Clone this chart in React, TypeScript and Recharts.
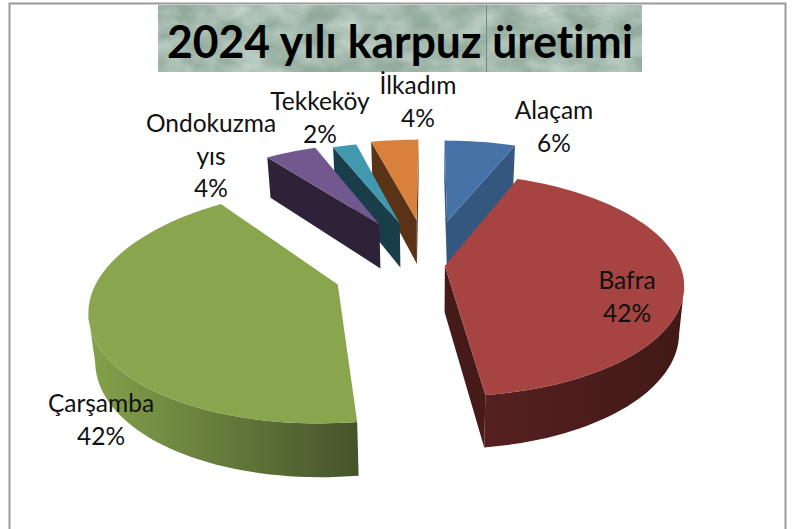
import React from "react";
import { PieChart, Pie } from "recharts";

const titleText = "2024 yılı karpuz üretimi";
// listed in paint order, running counter-clockwise from Alaçam's right edge
const sliceNames = ["Alaçam", "İlkadım", "Tekkeköy", "Ondokuzmayıs", "Çarşamba", "Bafra"];
const sliceValues = [6, 4, 2, 4.3, 41.8, 41.9];
const labelLines = [["Alaçam"], ["İlkadım"], ["Tekkeköy"], ["Ondokuzma", "yıs"], ["Çarşamba"], ["Bafra"]];

// styling (not data)
const topColors = ["#4672a8", "#d8813c", "#4198af", "#71588f", "#89a54e", "#a64442"];
const edgeColors = ["#34577f", "#5a3216", "#1a3d4a", "#2e2238", "#46562a", "#451a18"];
const wallLeft = ["#34577f", "#5a3216", "#1a3d4a", "#2e2238", "#83a04b", "#552020"];
const wallRight = ["#34577f", "#5a3216", "#1a3d4a", "#2e2238", "#44542a", "#421917"];
const explode = [0.44, 0.45, 0.43, 0.46, 0.415, 0.068];
const explodeTilt = [0, 0, 0, 0, 2.5, 0];
const labelOffsets = [[125, -146], [-11, -171], [-109, -155], [-218, -133], [-328, 147], [198, 24]];
const gradientSpan = [[55, 250], [55, 250], [55, 250], [55, 250], [-335, -70], [55, 250]];

const CX = 429;
const CY = 265;
const R = 235;
const VERTICAL = 108 / 235;
const PERSPECTIVE = 0.17;
const DEPTH = 46;
const FONT = "Lato, 'Open Sans', sans-serif";

type Pt = { x: number; y: number; s: number };

function project(cx: number, cy: number, r: number, wx: number, wy: number): Pt {
  const s = 1 / (1 + PERSPECTIVE * wy);
  return { x: cx + r * wx * s, y: cy - r * VERTICAL * wy * s, s };
}

function lower(cx: number, p: Pt): Pt {
  return { x: cx + (p.x - cx) * 0.98, y: p.y + DEPTH * Math.pow(p.s, 0.7), s: p.s };
}

const pathOf = (pts: Pt[]) =>
  pts.map((p, i) => `${i ? "L" : "M"}${p.x.toFixed(2)} ${p.y.toFixed(2)}`).join(" ") + " Z";

function Slice3D(props: any) {
  const { cx, cy, outerRadius, index } = props;
  // walk the rim clockwise on screen whatever direction the pie runs
  const from = Math.max(props.startAngle, props.endAngle);
  const to = Math.min(props.startAngle, props.endAngle);
  const rad = Math.PI / 180;
  const mid = ((from + to) / 2 + explodeTilt[index]) * rad;
  const ex = explode[index] * Math.cos(mid);
  const ey = explode[index] * Math.sin(mid);
  const apex = project(cx, cy, outerRadius, ex, ey);
  const arc: Pt[] = [];
  const steps = Math.max(4, Math.ceil((from - to) / 2));
  for (let i = 0; i <= steps; i++) {
    const a = (from + ((to - from) * i) / steps) * rad;
    arc.push(project(cx, cy, outerRadius, ex + Math.cos(a), ey + Math.sin(a)));
  }
  const gradId = `wall-${index}`;
  // the rim's front-facing run (edges heading left on screen) as one solid wall
  const run: Pt[] = [];
  for (let i = 0; i < arc.length - 1; i++) {
    if (arc[i + 1].x < arc[i].x) {
      if (!run.length) run.push(arc[i]);
      run.push(arc[i + 1]);
    }
  }
  const first = arc[0];
  const last = arc[arc.length - 1];
  const radials: React.ReactNode[] = [];
  if (apex.x < last.x) {
    radials.push(
      <path key="re" d={pathOf([last, apex, lower(cx, apex), lower(cx, last)])} fill={edgeColors[index]} />
    );
  }
  if (first.x < apex.x) {
    radials.push(
      <path key="rs" d={pathOf([apex, first, lower(cx, first), lower(cx, apex)])} fill={edgeColors[index]} />
    );
  }
  const [g0, g1] = gradientSpan[index];
  return (
    <g>
      <defs>
        <linearGradient id={gradId} gradientUnits="userSpaceOnUse" x1={cx + g0} y1={0} x2={cx + g1} y2={0}>
          <stop offset="0" stopColor={wallLeft[index]} />
          <stop offset="1" stopColor={wallRight[index]} />
        </linearGradient>
      </defs>
      {radials}
      {run.length > 1 && (
        <path d={pathOf([...run, ...run.map((p) => lower(cx, p)).reverse()])} fill={`url(#${gradId})`} />
      )}
      <path d={pathOf([apex, ...arc])} fill={topColors[index]} />
    </g>
  );
}

function SliceLabel(props: any) {
  const { cx, cy, index, percent } = props;
  const lines = [...labelLines[index], `${Math.round(percent * 100)}%`];
  const [dx, dy] = labelOffsets[index];
  const x = cx + dx;
  const y = cy + dy;
  const lh = 32.5;
  return (
    <text x={x} y={y} textAnchor="middle" fontFamily={FONT} fontSize={24.5} fill="#111" style={{ fontVariantLigatures: "none" }}>
      {lines.map((l, i) => (
        <tspan key={i} x={x} y={y + i * lh}>
          {l}
        </tspan>
      ))}
    </text>
  );
}

const chartData = sliceNames.map((name, i) => ({ name, value: sliceValues[i] }));
const total = sliceValues.reduce((a, b) => a + b, 0);
const startAngle = 90 - (360 * sliceValues[0]) / total;

function TitleBar() {
  return (
    <svg width={799} height={529} style={{ position: "absolute", left: 0, top: 0 }}>
      <defs>
        <filter id="stone" x="0" y="0" width="100%" height="100%">
          <feTurbulence type="fractalNoise" baseFrequency="0.03 0.05" numOctaves={4} seed={7} />
          <feColorMatrix type="matrix" values="0 0 0 0 0.72  0 0 0 0 0.81  0 0 0 0 0.76  1.6 0 0 0 -0.45" />
          <feComposite in2="SourceGraphic" operator="in" />
        </filter>
      </defs>
      <rect x={158} y={5} width={484} height={67} fill="#93ab9d" />
      <rect x={158} y={5} width={484} height={67} fill="#fff" filter="url(#stone)" opacity={0.7} />
      <rect x={486} y={5} width={1} height={67} fill="#6f8a7c" />
      <text
        x={400}
        y={58}
        textAnchor="middle"
        fontFamily={FONT}
        fontWeight={700}
        fontSize={46}
        fill="#000"
        textLength={466}
        lengthAdjust="spacingAndGlyphs"
        style={{ fontVariantLigatures: "none" }}
      >
        {titleText}
      </text>
      <path d="M9.5 529 V3.5 H785.5 V529" fill="none" stroke="#999" strokeWidth={2} />
    </svg>
  );
}

export default function App() {
  return (
    <div style={{ position: "absolute", left: 0, top: 0, width: 799, height: 529, background: "#fff" }}>
      <TitleBar />
      <div style={{ position: "absolute", left: 0, top: 0 }}>
        <PieChart width={799} height={529} margin={{ top: 0, right: 0, bottom: 0, left: 0 }}>
          <Pie
            data={chartData}
            dataKey="value"
            nameKey="name"
            cx={CX}
            cy={CY}
            outerRadius={R}
            innerRadius={0}
            startAngle={startAngle}
            endAngle={startAngle + 360}
            stroke="none"
            isAnimationActive={false}
            shape={Slice3D}
            label={SliceLabel}
            labelLine={false}
          />
        </PieChart>
      </div>
    </div>
  );
}
